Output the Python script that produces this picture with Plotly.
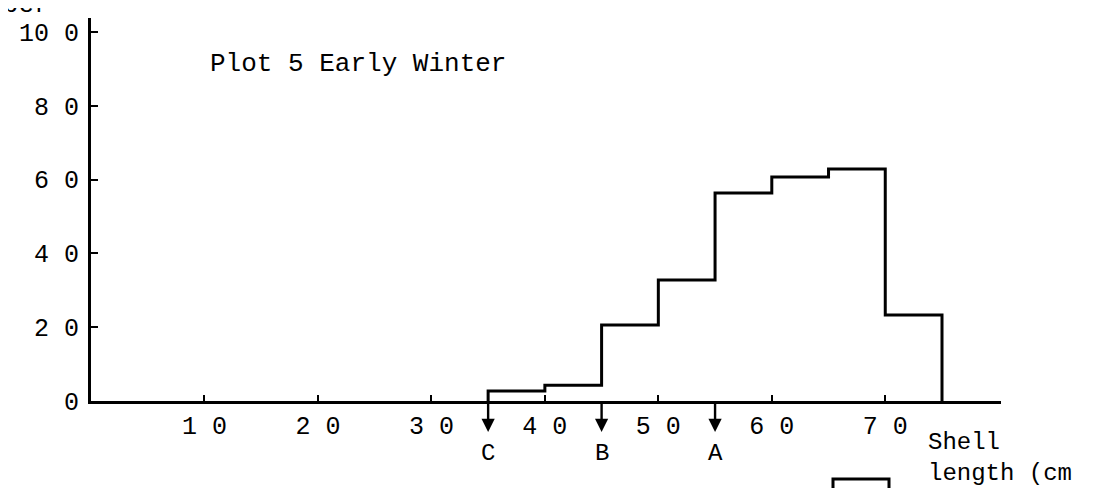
import plotly.graph_objects as go

# ---- data ----
bin_edges = [35, 40, 45, 50, 55, 60, 65, 70, 75]
counts = [2.7, 4.3, 20.6, 32.8, 56.4, 60.7, 62.9, 23.3]

x_tick_vals = [10, 20, 30, 40, 50, 60, 70]
x_tick_text = ["1 0", "2 0", "3 0", "4 0", "5 0", "6 0", "7 0"]
y_tick_vals = [0, 20, 40, 60, 80, 100]
y_tick_text = ["0", "2 0", "4 0", "6 0", "8 0", "10 0"]

marker_positions = [35, 45, 55]
marker_labels = ["C", "B", "A"]

title_text = "Plot 5 Early Winter"
x_title_text = "Shell<br>length (cm"
y_title_text = "Number"

FONT = "Liberation Mono"

# step outline of the histogram
step_x = [bin_edges[0]] + bin_edges[:-1] + [bin_edges[-1]]
step_y = [0] + counts + [0]

fig = go.Figure()
fig.add_trace(go.Scatter(
    x=step_x, y=step_y, mode="lines",
    line=dict(color="black", width=3, shape="hv"),
    hoverinfo="skip", showlegend=False,
))

# layout geometry (pixels)
W, H = 1101, 488
L, R, T, B = 83, 108, 10, 95
pw = W - L - R
ph = H - T - B


def px_x(px):
    return (px - L) / pw


def px_y(py):
    return (H - B - py) / ph


annotations = []
annotations.append(dict(
    text=title_text, xref="paper", yref="paper",
    x=px_x(200), y=px_y(56), xanchor="left", yanchor="middle",
    showarrow=False, font=dict(family=FONT, size=26, color="black"),
))
for pos, lab in zip(marker_positions, marker_labels):
    annotations.append(dict(
        x=pos, y=px_y(424), xref="x", yref="paper", text="",
        showarrow=True, arrowhead=2, arrowsize=1.1, arrowwidth=2.4,
        arrowcolor="black", ax=0, ay=-30,
    ))
    annotations.append(dict(
        x=pos, y=px_y(445), xref="x", yref="paper", text=lab,
        showarrow=False, xanchor="center", yanchor="middle",
        font=dict(family=FONT, size=24, color="black"),
    ))
annotations.append(dict(
    text=x_title_text, xref="paper", yref="paper",
    x=px_x(918), y=px_y(450), xanchor="left", yanchor="middle",
    align="left", showarrow=False,
    font=dict(family=FONT, size=24, color="black"),
))
annotations.append(dict(
    text=y_title_text, xref="paper", yref="paper",
    x=px_x(44), y=px_y(14), xanchor="right", yanchor="bottom",
    showarrow=False, font=dict(family=FONT, size=26, color="black"),
))

# partial box at the bottom edge
bx0, bx1 = px_x(825), px_x(881)
by_top, by_bot = px_y(471), px_y(500)
shapes = [dict(
    type="path", xref="paper", yref="paper",
    path=f"M {bx0},{by_bot} L {bx0},{by_top} L {bx1},{by_top} L {bx1},{by_bot}",
    line=dict(color="black", width=3),
)]

fig.update_layout(
    width=W, height=H,
    margin=dict(l=L, r=R, t=T, b=B),
    paper_bgcolor="white", plot_bgcolor="white",
    font=dict(family=FONT, size=25, color="black"),
    annotations=annotations, shapes=shapes,
    xaxis=dict(
        range=[0, 80.2], showgrid=False, zeroline=False,
        showline=True, linecolor="black", linewidth=3,
        tickmode="array", tickvals=x_tick_vals, ticktext=x_tick_text,
        ticks="inside", ticklen=6, tickwidth=2, tickcolor="black",
        ticklabelstandoff=0,
        tickfont=dict(family=FONT, size=25, color="black"),
    ),
    yaxis=dict(
        range=[0, 103.8], showgrid=False, zeroline=False,
        showline=True, linecolor="black", linewidth=3,
        tickmode="array", tickvals=y_tick_vals, ticktext=y_tick_text,
        ticks="inside", ticklen=7, tickwidth=2, tickcolor="black",
        ticklabelstandoff=4,
        tickfont=dict(family=FONT, size=25, color="black"),
    ),
)

fig.write_html("out.html")
